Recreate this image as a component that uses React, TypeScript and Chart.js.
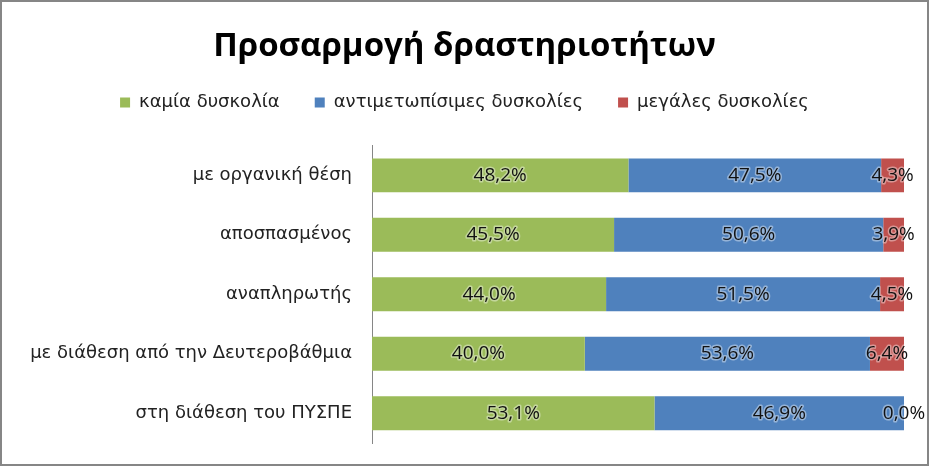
import React, { useEffect, useRef } from "react";
import { Chart, registerables } from "chart.js";

Chart.register(...registerables);

const categories = [
  "με οργανική θέση",
  "αποσπασμένος",
  "αναπληρωτής",
  "με διάθεση από την Δευτεροβάθμια",
  "στη διάθεση του ΠΥΣΠΕ",
];
const seriesNames = ["καμία δυσκολία", "αντιμετωπίσιμες δυσκολίες", "μεγάλες δυσκολίες"];
const noDifficulty = [48.2, 45.5, 44.0, 40.0, 53.1];
const manageable = [47.5, 50.6, 51.5, 53.6, 46.9];
const major = [4.3, 3.9, 4.5, 6.4, 0.0];
const colors = ["#9BBB59", "#4F81BD", "#C0504D"];
const titleText = "Προσαρμογή δραστηριοτήτων";

const labelPlugin = {
  id: "segLabels",
  afterDatasetsDraw(chart: any) {
    const ctx = chart.ctx;
    ctx.save();
    ctx.font = "19px 'Open Sans', sans-serif";
    ctx.textAlign = "center";
    ctx.textBaseline = "middle";
    chart.data.datasets.forEach((ds: any, di: number) => {
      const meta = chart.getDatasetMeta(di);
      meta.data.forEach((el: any, i: number) => {
        const v = ds.data[i] as number;
        const txt = v.toFixed(1).replace(".", ",") + "%";
        const cx = (el.x + el.base) / 2;
        const cy = el.y;
        ctx.lineJoin = "round";
        ctx.strokeStyle = "rgba(255,255,255,0.4)";
        ctx.lineWidth = 3;
        ctx.strokeText(txt, cx, cy);
        ctx.fillStyle = "#111111";
        ctx.fillText(txt, cx, cy);
      });
    });
    ctx.restore();
  },
};

const legendSpacer = {
  id: "legendSpacer",
  beforeInit(chart: any) {
    const legend = chart.legend;
    if (!legend) return;
    const origFit = legend.fit;
    legend.fit = function () {
      origFit.call(this);
      this.height += 24;
    };
  },
};

export default function App() {
  const ref = useRef<HTMLCanvasElement | null>(null);
  useEffect(() => {
    document.body.style.margin = "0";
    if (!ref.current) return;
    const chart = new Chart(ref.current, {
      type: "bar",
      data: {
        labels: categories,
        datasets: [
          { label: seriesNames[0], data: noDifficulty, backgroundColor: colors[0] },
          { label: seriesNames[1], data: manageable, backgroundColor: colors[1] },
          { label: seriesNames[2], data: major, backgroundColor: colors[2] },
        ],
      },
      options: {
        indexAxis: "y",
        animation: false,
        responsive: false,
        maintainAspectRatio: false,
        datasets: { bar: { categoryPercentage: 1, barPercentage: 0.57 } } as any,
        layout: { padding: { left: 23, right: 23, top: 0, bottom: 21 } },
        plugins: {
          title: {
            display: true,
            text: titleText,
            color: "#000000",
            font: { family: "'Open Sans', sans-serif", size: 33, weight: "bold" },
            padding: { top: 25, bottom: -8 },
          },
          legend: {
            display: true,
            position: "top",
            labels: {
              boxWidth: 10,
              boxHeight: 10,
              color: "#222222",
              font: { family: "'DejaVu Sans', sans-serif", size: 18 },
              padding: 35,
            },
          },
          tooltip: { enabled: false },
        },
        scales: {
          x: { stacked: true, display: false, min: 0, max: 100 },
          y: {
            stacked: true,
            grid: { display: false, drawTicks: false },
            border: { display: true, color: "#868686", width: 1 },
            ticks: {
              color: "#222222",
              font: { family: "'DejaVu Sans', sans-serif", size: 18 },
              padding: 20,
            },
            afterFit(scale: any) {
              scale.width = 347;
              scale.paddingTop = 0;
              scale.paddingBottom = 0;
            },
          },
        },
      },
      plugins: [labelPlugin, legendSpacer],
    } as any);
    return () => chart.destroy();
  }, []);
  return (
    <div
      style={{
        width: 929,
        height: 466,
        border: "2px solid #868686",
        boxSizing: "border-box",
        background: "#fff",
      }}
    >
      <canvas ref={ref} width={925} height={462} style={{ display: "block" }} />
    </div>
  );
}
